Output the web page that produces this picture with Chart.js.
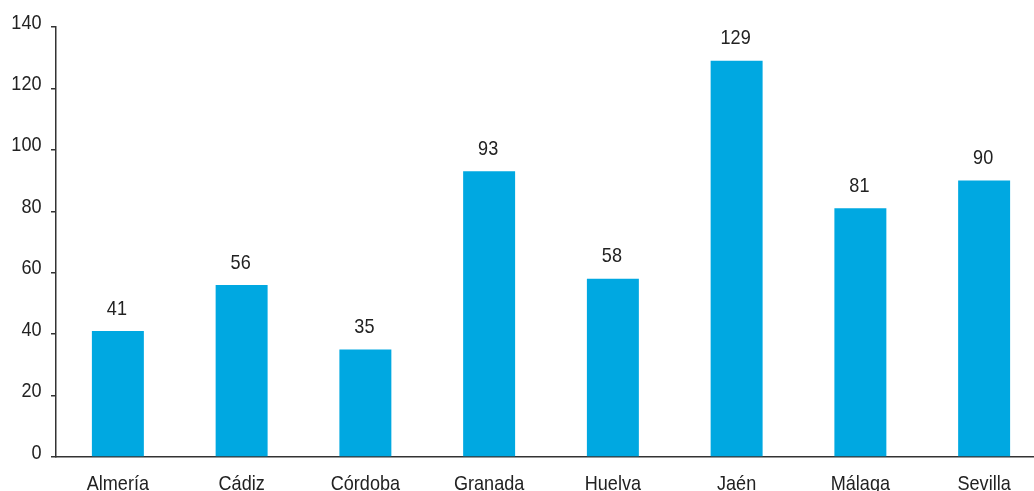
<!DOCTYPE html>
<html>
<head>
<meta charset="utf-8">
<script src="https://cdn.jsdelivr.net/npm/chart.js@4"></script>
<style>
  html, body { margin: 0; padding: 0; background: white; }
  #wrap { width: 1034px; height: 491px; overflow: hidden; }
  #provincias { display: block; }
</style>
</head>
<body>
<!-- el lienzo es algo mas ancho: el grafico original queda cortado por la derecha -->
<div id="wrap"><canvas id="provincias" width="1046" height="491"></canvas></div>
<script>
    var provincias = ['Almería', 'Cádiz', 'Córdoba', 'Granada', 'Huelva', 'Jaén', 'Málaga', 'Sevilla'];
    var valores = [41, 56, 35, 93, 58, 129, 81, 90];
    var yTicks = [0, 20, 40, 60, 80, 100, 120, 140];

    var fuente = '21px "Liberation Sans", Arial, sans-serif';
    var estrecho = 0.86;   // la fuente original es condensada
    var colorTexto = '#222';

    function textoEstrecho(ctx, txt, x, y, align) {
        ctx.save();
        ctx.translate(x, y);
        ctx.scale(estrecho, 1);
        ctx.textAlign = align;
        ctx.fillText(txt, 0, 0);
        ctx.restore();
    }

    // rotulos de ejes y valores encima de cada barra
    var rotulos = {
        id: 'rotulos',
        afterDraw: (chart) => {
            const {ctx} = chart;
            const xs = chart.scales.x, ys = chart.scales.y;
            ctx.save();
            ctx.font = fuente;
            ctx.fillStyle = colorTexto;
            ctx.textBaseline = 'alphabetic';
            yTicks.forEach(v => {
                textoEstrecho(ctx, String(v), 41.5, ys.getPixelForValue(v) + 1.5, 'right');
            });
            provincias.forEach((p, i) => {
                textoEstrecho(ctx, p, xs.getPixelForTick(i), 490, 'center');
            });
            chart.getDatasetMeta(0).data.forEach((bar, i) => {
                textoEstrecho(ctx, String(valores[i]), bar.x - 1, bar.y - 16.5, 'center');
            });
            ctx.restore();
        }
    };

    new Chart(document.getElementById('provincias'), {
        type: 'bar',
        data: {
            labels: provincias,
            datasets: [{
                data: valores,
                backgroundColor: '#00A8E1',
                barPercentage: 0.42,
                categoryPercentage: 1
            }]
        },
        options: {
            responsive: false,
            devicePixelRatio: 1,
            animation: false,
            layout: { padding: { top: 27, right: 0, left: 0, bottom: 0 } },
            plugins: {
                legend: { display: false },
                tooltip: { enabled: false }
            },
            scales: {
                x: {
                    grid: { display: false },
                    border: { display: true, color: '#333', width: 1.5 },
                    ticks: { display: false },
                    afterFit: (scale) => { scale.height = 34; }
                },
                y: {
                    min: 0,
                    max: 140,
                    afterBuildTicks: (scale) => { scale.ticks = yTicks.map(v => ({value: v})); },
                    grid: { drawOnChartArea: false, drawTicks: true, tickLength: 5, color: '#333', lineWidth: 1.5 },
                    border: { display: true, color: '#333', width: 1.5 },
                    ticks: { display: false },
                    afterFit: (scale) => { scale.width = 56; }
                }
            }
        },
        plugins: [rotulos]
    });
</script>
</body>
</html>
